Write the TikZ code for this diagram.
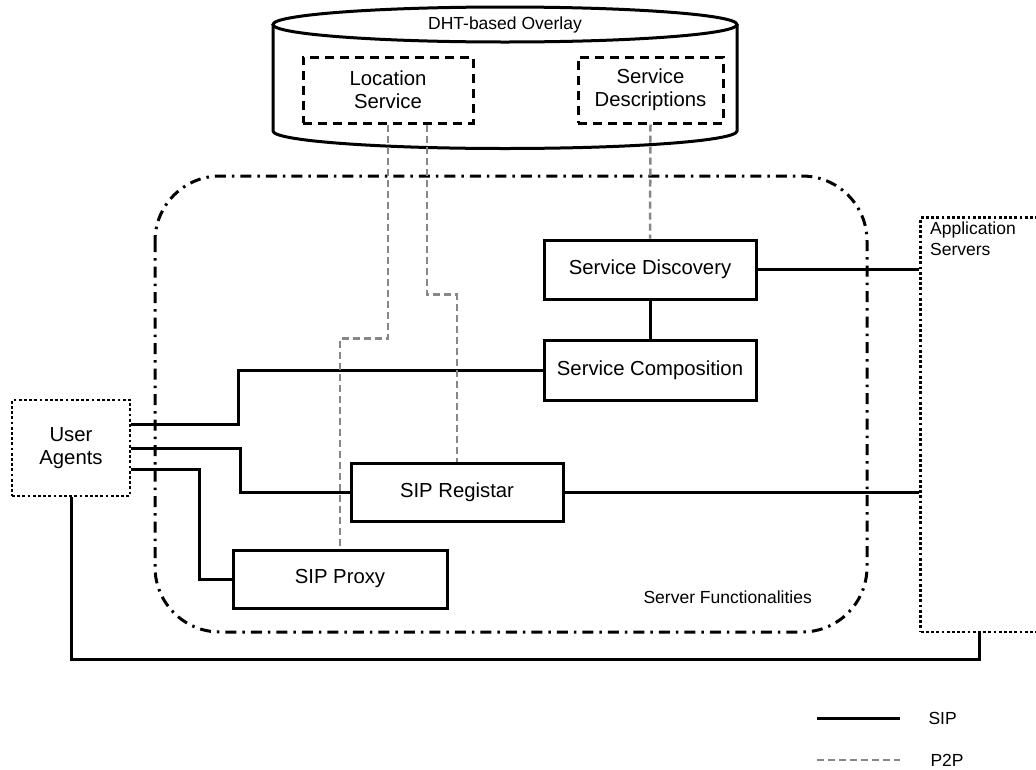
\documentclass[tikz,border=0pt]{standalone}
\usepackage{fontspec}
\setmainfont{Liberation Sans}
\usetikzlibrary{calc}
\begin{document}
\begin{tikzpicture}[x=1pt,y=-1pt,
  bigtext/.style={font=\fontsize{20.3}{23.3}\selectfont, align=center},
  smalltext/.style={font=\fontsize{17.5}{21}\selectfont},
  solidbox/.style={draw=black, line width=3pt, inner sep=0pt, bigtext},
  dashbox/.style={draw=black, line width=3pt, dash pattern=on 9pt off 6pt, inner sep=0pt, bigtext},
  dotbox/.style={draw=black, line width=2.8pt, dash pattern=on 2.8pt off 2.4pt, inner sep=0pt},
  sip/.style={draw=black, line width=3pt},
  p2p/.style={draw=black!47, line width=2.5pt, dash pattern=on 7pt off 4pt},
  dashdotline/.style={draw=black, line width=3pt, dash pattern=on 11pt off 6pt on 2.5pt off 6pt},
]
\useasboundingbox (0,0) rectangle (1036,769);
% DHT cylinder
\draw[line width=3pt] (273,24.5) -- (273,131) arc[start angle=180, end angle=360, x radius=232pt, y radius=17.5pt] -- (737,24.5);
\draw[line width=3pt, fill=white] (505,24.5) ellipse [x radius=232pt, y radius=17.5pt];
\node[smalltext] (dht) at (505,25) {DHT-based Overlay};
\node[dashbox, minimum width=170pt, minimum height=66pt] (ls) at (388,90) {Location\\Service};
\node[dashbox, minimum width=145pt, minimum height=66pt] (sdesc) at (650.5,90) {Service\\Descriptions};
% server functionalities
\draw[dashdotline, rounded corners=65pt] (155,176) rectangle (867,632);
\node[smalltext, anchor=west] (sf) at (640,597) {Server Functionalities};
% boxes
\node[solidbox, minimum width=212pt, minimum height=59pt] (sd) at (650,269.5) {Service Discovery};
\node[solidbox, minimum width=212pt, minimum height=60pt] (sc) at (650,370) {Service Composition};
\node[solidbox, minimum width=212pt, minimum height=58pt] (sr) at (457,492) {SIP Registar};
\node[solidbox, minimum width=214pt, minimum height=58pt] (sp) at (340,579) {SIP Proxy};
\node[dotbox, bigtext, minimum width=118pt, minimum height=96pt] (ua) at (71,448) {User\\Agents};
\node[dotbox, minimum width=140pt, minimum height=414.5pt] (as) at (990.7,424.75) {};
\node[smalltext, anchor=north west, align=left, inner sep=0pt] (astext) at (930,222) {Application\\Servers};
% SIP connectors
\draw[sip] (sd.south) -- (sc.north);
\draw[sip] (sd.east) -- (sd.east -| as.west);
\draw[sip] (sr.east) -- (sr.east -| as.west);
\draw[sip] ([yshift=24pt]ua.east) -| (238,370) -- (sc.west);
\draw[sip] (ua.east) -| (240,492) -- (sr.west);
\draw[sip] ([yshift=-21pt]ua.east) -| (199,579) -- (sp.west);
\draw[sip] (ua.south) |- (979,659) -- (979,659 |- as.south);
% P2P connectors
\draw[p2p] (ls.south) -- ++(0,214) -| (sp.north);
\draw[p2p] ([xshift=39pt]ls.south) -- ++(0,170) -| (sr.north);
\draw[p2p] (sdesc.south) -- (sd.north);
% legend
\coordinate (l1a) at (817,718);
\coordinate (l1b) at (900,718);
\coordinate (l2a) at (817,760);
\coordinate (l2b) at (900,760);
\draw[sip] (l1a) -- (l1b);
\draw[p2p] (l2a) -- (l2b);
\node[smalltext, anchor=west] (lsip) at (925,718) {SIP};
\node[smalltext, anchor=west] (lp2p) at (927,760) {P2P};
\end{tikzpicture}
\end{document}
